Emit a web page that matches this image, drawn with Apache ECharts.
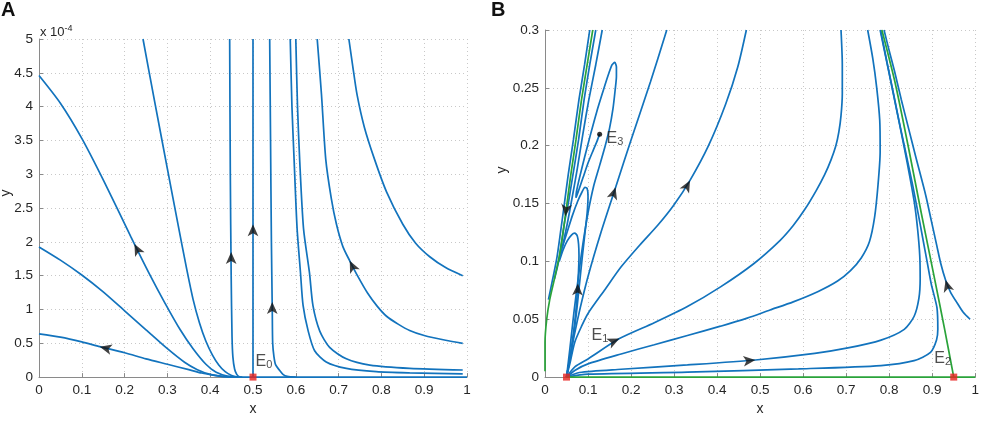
<!DOCTYPE html>
<html style="height: 100%">
<head>
    <meta charset="utf-8">
    <script src="https://cdn.jsdelivr.net/npm/echarts@6/dist/echarts.min.js"></script>
</head>
<body style="height: 100%; margin: 0; background: #fff">
<div id="container" style="width: 982px; height: 421px"></div>
<script type="text/javascript">
    // ---- panel A (y in units of 1e-4) ----
    var ticksA_x = [0, 1, 0.1];
    var ticksA_y = [0, 5, 0.5];
    var a1 = [[0, 0.64], [0.05, 0.59], [0.1, 0.52], [0.142, 0.45], [0.2, 0.36], [0.25, 0.27], [0.3, 0.19], [0.35, 0.11], [0.38, 0.06], [0.41, 0.025], [0.43, 0.008], [0.45, 0.001], [0.47, 0]];
    var a2 = [[0, 1.925], [0.05, 1.73], [0.1, 1.51], [0.15, 1.26], [0.2, 0.98], [0.25, 0.7], [0.3, 0.42], [0.34, 0.22], [0.37, 0.11], [0.4, 0.04], [0.43, 0.01], [0.46, 0]];
    var a3 = [[0, 4.46], [0.05, 4.05], [0.1, 3.53], [0.153, 2.88], [0.215, 2.07], [0.26, 1.5], [0.293, 1.11], [0.33, 0.7], [0.36, 0.42], [0.39, 0.19], [0.414, 0.07], [0.44, 0.015], [0.47, 0]];
    var a4 = [[0.243, 5], [0.27, 4.08], [0.3, 3.08], [0.325, 2.25], [0.345, 1.6], [0.36, 1.15], [0.375, 0.8], [0.39, 0.53], [0.405, 0.33], [0.42, 0.18], [0.435, 0.08], [0.45, 0.025], [0.465, 0]];
    var a5 = [[0.4455, 5], [0.447, 3], [0.449, 1.5], [0.451, 0.6], [0.453, 0.3], [0.457, 0.12], [0.462, 0.04], [0.468, 0.005], [0.475, 0]];
    var a6 = [[0.5, 0], [0.5, 5]];
    var a7 = [[0.539, 5], [0.541, 3.5], [0.543, 2], [0.545, 1], [0.546, 0.5], [0.549, 0.3], [0.553, 0.18], [0.562, 0.1], [0.57, 0.04], [0.58, 0.01], [0.6, 0]];
    var a8 = [[0.587, 5], [0.591, 4], [0.596, 3.22], [0.603, 2.2], [0.611, 1.54], [0.617, 1.06], [0.629, 0.68], [0.644, 0.39], [0.671, 0.224], [0.718, 0.129], [0.788, 0.08], [0.866, 0.062], [0.99, 0.047]];
    var a9 = [[0.6, 5], [0.604, 4], [0.609, 3.22], [0.618, 2.2], [0.632, 1.54], [0.64, 1.06], [0.656, 0.68], [0.679, 0.44], [0.718, 0.27], [0.773, 0.177], [0.866, 0.129], [0.99, 0.105]];
    var a10 = [[0.65, 5], [0.66, 4.18], [0.67, 3.22], [0.683, 2.64], [0.695, 2.26], [0.71, 1.93], [0.726, 1.72], [0.745, 1.49], [0.768, 1.24], [0.79, 1.05], [0.812, 0.9], [0.84, 0.78], [0.866, 0.69], [0.9, 0.615], [0.95, 0.545], [0.99, 0.5]];
    var a11 = [[0.724, 5], [0.733, 4.6], [0.743, 4.18], [0.76, 3.7], [0.784, 3.22], [0.812, 2.74], [0.85, 2.26], [0.88, 1.98], [0.913, 1.78], [0.95, 1.62], [0.99, 1.5]];
    var aBase = [[0.44, 0], [1, 0]];
    // arrow: point on curve, then a point a little further along the flow
    var arrowsA = [[0.142, 0.45, 0.122, 0.482], [0.223, 1.97, 0.215, 2.07], [0.449, 1.85, 0.449, 2.0],
        [0.5, 2.26, 0.5, 2.4], [0.545, 1.11, 0.545, 1.25], [0.726, 1.72, 0.718, 1.825]];
    var eqA = [[0.5, 0]];
    var labelsA = [['0', 0.506, 0.234]];

    // ---- panel B ----
    var ticksB_x = [0, 1, 0.1];
    var ticksB_y = [0, 0.3, 0.05];
    var gLeft = [[0, 0.005], [0, 0.03], [0.004, 0.05], [0.011, 0.067], [0.022, 0.085], [0.033, 0.104], [0.042, 0.125], [0.05, 0.147], [0.06, 0.175], [0.072, 0.205], [0.085, 0.24], [0.098, 0.27], [0.111, 0.3]];
    var gRight = [[0.95, 0], [0.929, 0.041], [0.906, 0.084], [0.875, 0.141], [0.845, 0.198], [0.814, 0.254], [0.783, 0.3]];
    var gBottom = [[0.05, 0], [1, 0]];
    var t1 = [[0.104, 0.3], [0.092, 0.27], [0.079, 0.24], [0.066, 0.205], [0.054, 0.175], [0.044, 0.147], [0.036, 0.125], [0.028, 0.104], [0.018, 0.085], [0.008, 0.067]];
    var t2 = [[0.118, 0.3], [0.104, 0.27], [0.091, 0.24], [0.078, 0.205], [0.065, 0.175], [0.054, 0.15], [0.046, 0.135], [0.04, 0.12], [0.035, 0.107], [0.03, 0.097], [0.022, 0.085]];
    var t3 = [[0.133, 0.3], [0.118, 0.27], [0.102, 0.24], [0.088, 0.21], [0.075, 0.18], [0.063, 0.155], [0.052, 0.133], [0.043, 0.117], [0.036, 0.105]];
    var arch1 = [[0.033, 0.1], [0.042, 0.11], [0.052, 0.118], [0.062, 0.123], [0.069, 0.1245], [0.075, 0.122], [0.078, 0.115], [0.079, 0.105], [0.078, 0.092], [0.076, 0.078], [0.072, 0.058], [0.066, 0.038], [0.059, 0.019], [0.05, 0]];
    var arch2 = [[0.04, 0.112], [0.052, 0.126], [0.064, 0.14], [0.076, 0.152], [0.086, 0.16], [0.093, 0.164], [0.098, 0.163], [0.1, 0.156], [0.098, 0.142], [0.093, 0.125], [0.087, 0.105], [0.08, 0.08], [0.072, 0.052], [0.062, 0.025], [0.05, 0]];
    var spiral = [[0.05, 0], [0.058, 0.025], [0.067, 0.055], [0.077, 0.085], [0.088, 0.115], [0.1, 0.142], [0.113, 0.165], [0.127, 0.183], [0.14, 0.2], [0.15, 0.215], [0.158, 0.232], [0.163, 0.248], [0.166, 0.26], [0.166, 0.268], [0.162, 0.272], [0.156, 0.27], [0.146, 0.26], [0.134, 0.246], [0.12, 0.229], [0.106, 0.21], [0.092, 0.19], [0.08, 0.172], [0.073, 0.16], [0.072, 0.155], [0.077, 0.16], [0.088, 0.172], [0.1, 0.185], [0.112, 0.196], [0.121, 0.204], [0.127, 0.21]];
    var b1 = [[0.05, 0], [0.058, 0.016], [0.068, 0.036], [0.082, 0.06], [0.1, 0.087], [0.13, 0.125], [0.165, 0.165], [0.2, 0.205], [0.245, 0.255], [0.283, 0.3]];
    var b2 = [[0.05, 0], [0.058, 0.012], [0.069, 0.03], [0.085, 0.044], [0.1, 0.055], [0.14, 0.076], [0.177, 0.0953], [0.22, 0.114], [0.2615, 0.131], [0.3, 0.149], [0.337, 0.17], [0.38, 0.2], [0.42, 0.236], [0.448, 0.268], [0.468, 0.3]];
    var b3 = [[0.05, 0], [0.07, 0.009], [0.1, 0.0157], [0.173, 0.0333], [0.254, 0.047], [0.331, 0.061], [0.408, 0.078], [0.485, 0.098], [0.546, 0.118], [0.577, 0.131], [0.604, 0.145], [0.63, 0.161], [0.65, 0.175], [0.665, 0.188], [0.676, 0.2], [0.683, 0.212], [0.688, 0.226], [0.691, 0.245], [0.691, 0.27], [0.688, 0.3]];
    var b4 = [[0.05, 0], [0.07, 0.006], [0.1, 0.0114], [0.177, 0.02], [0.254, 0.028], [0.331, 0.036], [0.408, 0.044], [0.47, 0.051], [0.523, 0.058], [0.577, 0.065], [0.635, 0.074], [0.68, 0.083], [0.71, 0.092], [0.735, 0.103], [0.754, 0.117], [0.766, 0.138], [0.774, 0.166], [0.779, 0.195], [0.778, 0.222], [0.771, 0.25], [0.762, 0.275], [0.75, 0.3]];
    var b5 = [[0.05, 0], [0.08, 0.004], [0.177, 0.0068], [0.331, 0.0105], [0.489, 0.0148], [0.627, 0.0205], [0.704, 0.0252], [0.781, 0.032], [0.835, 0.0413], [0.858, 0.0526], [0.869, 0.068], [0.872, 0.085], [0.871, 0.105], [0.866, 0.128], [0.858, 0.152], [0.842, 0.185], [0.826, 0.215], [0.81, 0.245], [0.795, 0.272], [0.78, 0.3]];
    var b6 = [[0.05, 0], [0.1, 0.0025], [0.331, 0.0043], [0.589, 0.0071], [0.781, 0.01], [0.858, 0.0142], [0.896, 0.0213], [0.91, 0.032], [0.913, 0.0413], [0.911, 0.06], [0.898, 0.08], [0.888, 0.1], [0.878, 0.12], [0.868, 0.14], [0.855, 0.165], [0.838, 0.195], [0.819, 0.228], [0.799, 0.264], [0.779, 0.3]];
    var b7 = [[0.988, 0.05], [0.972, 0.056], [0.958, 0.064], [0.943, 0.073], [0.931, 0.084], [0.92, 0.098], [0.911, 0.113], [0.898, 0.135], [0.885, 0.157], [0.862, 0.19], [0.845, 0.215], [0.828, 0.24], [0.812, 0.265], [0.798, 0.285], [0.788, 0.3]];
    var arrowsB = [[0.047, 0.139, 0.044, 0.13], [0.0765, 0.081, 0.0775, 0.09], [0.164, 0.164, 0.175, 0.177], [0.173, 0.0333, 0.2, 0.038],
        [0.337, 0.17, 0.36, 0.186], [0.489, 0.0148, 0.52, 0.016], [0.931, 0.084, 0.92, 0.098]];
    var eqB = [[0.05, 0], [0.95, 0]];
    var focusB = [[0.127, 0.21]];
    var labelsB = [['1', 0.108, 0.0356], ['2', 0.905, 0.016], ['3', 0.143, 0.206]];

    var blue = '#1273bd';
    var green = '#2aa33a';
    var font = 'Liberation Sans, Arial, Helvetica, sans-serif';

    var dom = document.getElementById("container");
    var myChart = echarts.init(dom);

    function xAxis(gi, t, gap) {
        return {
            type: 'value', gridIndex: gi, min: t[0], max: t[1], interval: t[2],
            name: 'x', nameLocation: 'middle', nameGap: gap,
            nameTextStyle: {fontFamily: font, fontSize: 14, color: '#262626'},
            axisLine: {lineStyle: {color: '#8a8a8a', width: 1}},
            axisTick: {inside: true, length: 4, lineStyle: {color: '#8a8a8a'}},
            axisLabel: {fontFamily: font, fontSize: 13.5, color: '#262626', margin: 6},
            splitLine: {show: true, lineStyle: {type: [1, 3], color: '#c8c8c8'}}
        };
    }

    function yAxis(gi, t) {
        return {
            type: 'value', gridIndex: gi, min: t[0], max: t[1], interval: t[2],
            axisLine: {show: true, lineStyle: {color: '#8a8a8a', width: 1}},
            axisTick: {show: true, inside: true, length: 4, lineStyle: {color: '#8a8a8a'}},
            axisLabel: {fontFamily: font, fontSize: 13.5, color: '#262626', margin: 6},
            splitLine: {show: true, lineStyle: {type: [1, 3], color: '#c8c8c8'}}
        };
    }

    function curve(data, gi, color) {
        return {
            type: 'line', xAxisIndex: gi, yAxisIndex: gi, data: data,
            showSymbol: false, smooth: 0.25, clip: false, silent: true,
            lineStyle: {width: 1.7, color: color || blue}, z: color ? 3 : 2
        };
    }

    function arrowItems(list, gi) {
        return list.map(function (a) {
            var p1 = myChart.convertToPixel({gridIndex: gi}, [a[0], a[1]]);
            var p2 = myChart.convertToPixel({gridIndex: gi}, [a[2], a[3]]);
            var ang = Math.atan2(p1[1] - p2[1], p2[0] - p1[0]) * 180 / Math.PI;
            return {value: [a[0], a[1]], symbolRotate: ang - 90};
        });
    }

    function arrows(list, gi) {
        return {
            type: 'scatter', xAxisIndex: gi, yAxisIndex: gi, symbol: 'arrow', symbolSize: [8, 12],
            itemStyle: {color: '#111'}, silent: true, z: 6,
            data: list.map(function (a) { return [a[0], a[1]]; })
        };
    }

    function eqLabels(list, gi) {
        return {
            type: 'scatter', xAxisIndex: gi, yAxisIndex: gi, symbolSize: 0, silent: true, z: 7,
            data: list.map(function (l) { return {value: [l[1], l[2]], sub: l[0]}; }),
            label: {
                show: true, position: 'right', distance: 0,
                formatter: function (p) { return '{e|E}{s|' + p.data.sub + '}'; },
                rich: {
                    e: {fontFamily: font, fontSize: 16, color: '#222'},
                    s: {fontFamily: font, fontSize: 11, color: '#222', padding: [7, 0, 0, 0]}
                }
            }
        };
    }

    var seriesA = [a1, a2, a3, a4, a5, a6, a7, a8, a9, a10, a11, aBase].map(function (d) { return curve(d, 0); });
    var seriesB = [t1, t2, t3, arch1, arch2, spiral, b1, b2, b3, b4, b5, b6, b7].map(function (d) { return curve(d, 1); });
    [gLeft, gRight, gBottom].forEach(function (d) { seriesB.push(curve(d, 1, green)); });

    var series = seriesA.concat(seriesB, [
        arrows(arrowsA, 0),
        arrows(arrowsB, 1),
        {type: 'scatter', xAxisIndex: 0, yAxisIndex: 0, symbol: 'rect', symbolSize: 7, itemStyle: {color: '#e8231f'}, data: eqA, z: 8, silent: true},
        {type: 'scatter', xAxisIndex: 1, yAxisIndex: 1, symbol: 'rect', symbolSize: 7, itemStyle: {color: '#e8231f'}, data: eqB, z: 8, silent: true},
        {type: 'scatter', xAxisIndex: 1, yAxisIndex: 1, symbolSize: 5, itemStyle: {color: '#000'}, data: focusB, z: 8, silent: true},
        eqLabels(labelsA, 0),
        eqLabels(labelsB, 1)
    ]);

    var option = {
        animation: false,
        grid: [
            {left: 39, top: 39, width: 428, height: 348},
            {left: 545, top: 30, width: 433, height: 352}
        ],
        xAxis: [xAxis(0, ticksA_x, 18), xAxis(1, ticksB_x, 21)],
        yAxis: [yAxis(0, ticksA_y), yAxis(1, ticksB_y)],
        graphic: [
            {type: 'text', left: 1, top: 0, style: {text: 'A', font: 'bold 20px ' + font, fill: '#111'}},
            {type: 'text', left: 491, top: 0, style: {text: 'B', font: 'bold 20px ' + font, fill: '#111'}},
            {type: 'text', left: 40, top: 24, style: {
                text: '{m|x 10}{p|-4}', rich: {m: {fontFamily: font, fontSize: 13, fill: '#262626'}, p: {fontFamily: font, fontSize: 9, fill: '#262626', padding: [0, 0, 8, 0]}}
            }},
            {type: 'text', x: 6, y: 193, rotation: Math.PI / 2, style: {text: 'y', font: '14px ' + font, fill: '#262626', align: 'center', verticalAlign: 'middle'}},
            {type: 'text', x: 502, y: 170, rotation: Math.PI / 2, style: {text: 'y', font: '14px ' + font, fill: '#262626', align: 'center', verticalAlign: 'middle'}}
        ],
        series: series
    };

    myChart.setOption(option, true);

    // point the arrow heads along the flow, measured on screen
    var nA = seriesA.length + seriesB.length;
    series[nA].data = arrowItems(arrowsA, 0);
    series[nA + 1].data = arrowItems(arrowsB, 1);
    myChart.setOption({series: series});
</script>
</body>
</html>
